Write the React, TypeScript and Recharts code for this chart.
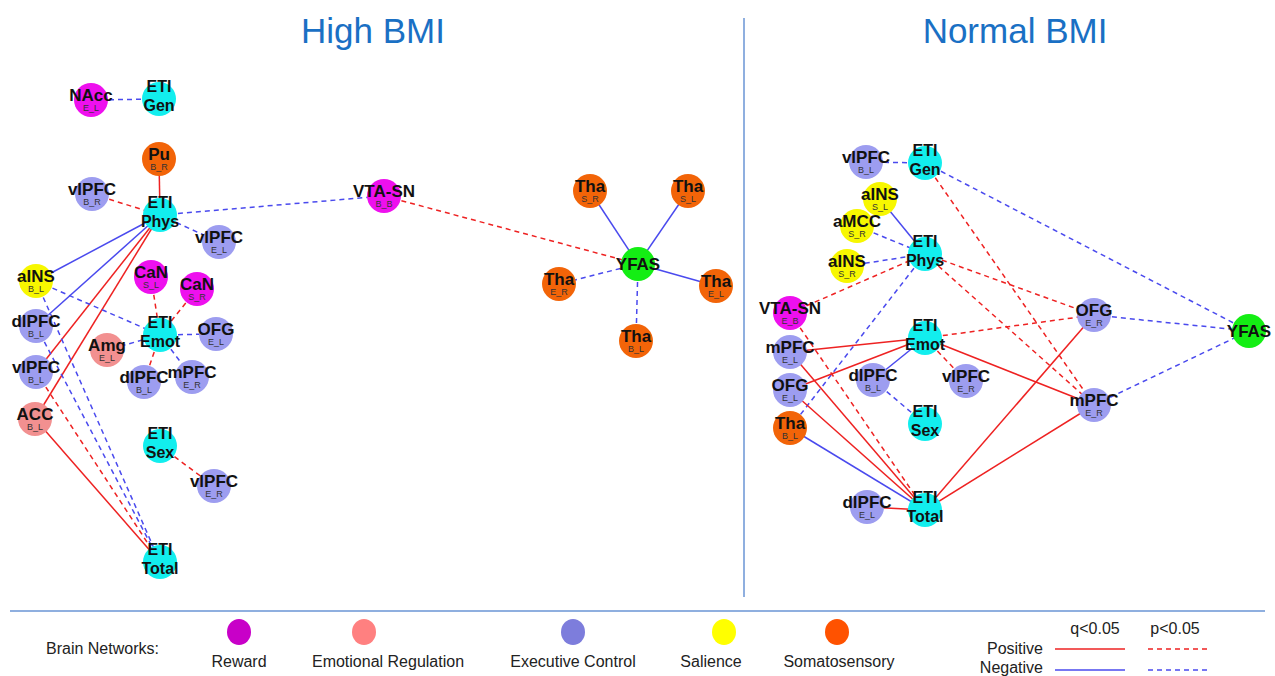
import { ScatterChart, Scatter, XAxis, YAxis } from "recharts";

type Group = "reward" | "emotion" | "executive" | "salience" | "somato" | "eti" | "yfas";
type Node = { id: string; label: string; sub?: string; group: Group; x: number; y: number };
type Edge = [string, string, "pos" | "neg", "q" | "p"];

// node layout (x, y), drawn through the axes' scales
const highNodes: Node[] = [
  { id: "h_nacc", label: "NAcc", sub: "E_L", group: "reward", x: 91, y: 100 },
  { id: "h_gen", label: "ETI\nGen", group: "eti", x: 159, y: 99 },
  { id: "h_pu", label: "Pu", sub: "B_R", group: "somato", x: 159, y: 159 },
  { id: "h_vlpfc_br", label: "vlPFC", sub: "B_R", group: "executive", x: 92, y: 194 },
  { id: "h_phys", label: "ETI\nPhys", group: "eti", x: 160, y: 215 },
  { id: "h_vlpfc_el", label: "vlPFC", sub: "E_L", group: "executive", x: 219, y: 242 },
  { id: "h_vta", label: "VTA-SN", sub: "B_B", group: "reward", x: 384, y: 196 },
  { id: "h_ains", label: "aINS", sub: "B_L", group: "salience", x: 36, y: 281 },
  { id: "h_can_sl", label: "CaN", sub: "S_L", group: "reward", x: 151, y: 277 },
  { id: "h_can_sr", label: "CaN", sub: "S_R", group: "reward", x: 197, y: 289 },
  { id: "h_dlpfc_bl", label: "dlPFC", sub: "B_L", group: "executive", x: 36, y: 326 },
  { id: "h_emot", label: "ETI\nEmot", group: "eti", x: 160, y: 335 },
  { id: "h_ofg", label: "OFG", sub: "E_L", group: "executive", x: 216, y: 334 },
  { id: "h_amg", label: "Amg", sub: "E_L", group: "emotion", x: 107, y: 350 },
  { id: "h_vlpfc_bl", label: "vlPFC", sub: "B_L", group: "executive", x: 36, y: 372 },
  { id: "h_dlpfc_bl2", label: "dlPFC", sub: "B_L", group: "executive", x: 144, y: 382 },
  { id: "h_mpfc", label: "mPFC", sub: "E_R", group: "executive", x: 192, y: 377 },
  { id: "h_acc", label: "ACC", sub: "B_L", group: "emotion", x: 35, y: 419 },
  { id: "h_sex", label: "ETI\nSex", group: "eti", x: 160, y: 446 },
  { id: "h_vlpfc_er", label: "vlPFC", sub: "E_R", group: "executive", x: 214, y: 486 },
  { id: "h_total", label: "ETI\nTotal", group: "eti", x: 160, y: 562 },
  { id: "h_tha_sr", label: "Tha", sub: "S_R", group: "somato", x: 590, y: 191 },
  { id: "h_tha_sl", label: "Tha", sub: "S_L", group: "somato", x: 688, y: 191 },
  { id: "h_yfas", label: "YFAS", group: "yfas", x: 638, y: 264 },
  { id: "h_tha_er", label: "Tha", sub: "E_R", group: "somato", x: 559, y: 284 },
  { id: "h_tha_el", label: "Tha", sub: "E_L", group: "somato", x: 716, y: 286 },
  { id: "h_tha_bl", label: "Tha", sub: "B_L", group: "somato", x: 636, y: 341 },
];

const normalNodes: Node[] = [
  { id: "n_vlpfc_bl", label: "vlPFC", sub: "B_L", group: "executive", x: 866, y: 162 },
  { id: "n_gen", label: "ETI\nGen", group: "eti", x: 925, y: 163 },
  { id: "n_ains_sl", label: "aINS", sub: "S_L", group: "salience", x: 880, y: 199 },
  { id: "n_amcc", label: "aMCC", sub: "S_R", group: "salience", x: 857, y: 226 },
  { id: "n_phys", label: "ETI\nPhys", group: "eti", x: 925, y: 254 },
  { id: "n_ains_sr", label: "aINS", sub: "S_R", group: "salience", x: 847, y: 266 },
  { id: "n_vta", label: "VTA-SN", sub: "E_B", group: "reward", x: 790, y: 313 },
  { id: "n_ofg_er", label: "OFG", sub: "E_R", group: "executive", x: 1094, y: 315 },
  { id: "n_yfas", label: "YFAS", group: "yfas", x: 1249, y: 331 },
  { id: "n_emot", label: "ETI\nEmot", group: "eti", x: 925, y: 338 },
  { id: "n_mpfc_el", label: "mPFC", sub: "E_L", group: "executive", x: 790, y: 352 },
  { id: "n_dlpfc_bl", label: "dlPFC", sub: "B_L", group: "executive", x: 873, y: 380 },
  { id: "n_vlpfc_er", label: "vlPFC", sub: "E_R", group: "executive", x: 966, y: 381 },
  { id: "n_ofg_el", label: "OFG", sub: "E_L", group: "executive", x: 790, y: 390 },
  { id: "n_mpfc_er", label: "mPFC", sub: "E_R", group: "executive", x: 1094, y: 405 },
  { id: "n_sex", label: "ETI\nSex", group: "eti", x: 925, y: 424 },
  { id: "n_tha_bl", label: "Tha", sub: "B_L", group: "somato", x: 790, y: 428 },
  { id: "n_dlpfc_el", label: "dlPFC", sub: "E_L", group: "executive", x: 867, y: 507 },
  { id: "n_total", label: "ETI\nTotal", group: "eti", x: 925, y: 510 },
];

const highEdges: Edge[] = [
  ["h_nacc", "h_gen", "neg", "p"],
  ["h_pu", "h_phys", "pos", "q"],
  ["h_vlpfc_br", "h_phys", "pos", "p"],
  ["h_phys", "h_vta", "neg", "p"],
  ["h_phys", "h_vlpfc_el", "neg", "p"],
  ["h_vta", "h_yfas", "pos", "p"],
  ["h_phys", "h_ains", "neg", "q"],
  ["h_phys", "h_dlpfc_bl", "neg", "q"],
  ["h_phys", "h_vlpfc_bl", "pos", "q"],
  ["h_phys", "h_acc", "pos", "q"],
  ["h_ains", "h_emot", "neg", "p"],
  ["h_ains", "h_total", "neg", "p"],
  ["h_dlpfc_bl", "h_total", "neg", "p"],
  ["h_vlpfc_bl", "h_total", "pos", "p"],
  ["h_acc", "h_total", "pos", "q"],
  ["h_can_sl", "h_emot", "pos", "p"],
  ["h_can_sr", "h_emot", "pos", "p"],
  ["h_emot", "h_ofg", "neg", "p"],
  ["h_emot", "h_amg", "neg", "p"],
  ["h_emot", "h_dlpfc_bl2", "pos", "p"],
  ["h_emot", "h_mpfc", "neg", "p"],
  ["h_sex", "h_vlpfc_er", "pos", "p"],
  ["h_yfas", "h_tha_sr", "neg", "q"],
  ["h_yfas", "h_tha_sl", "neg", "q"],
  ["h_yfas", "h_tha_er", "neg", "p"],
  ["h_yfas", "h_tha_el", "neg", "q"],
  ["h_yfas", "h_tha_bl", "neg", "p"],
];

const normalEdges: Edge[] = [
  ["n_vlpfc_bl", "n_gen", "neg", "p"],
  ["n_gen", "n_yfas", "neg", "p"],
  ["n_gen", "n_mpfc_er", "pos", "p"],
  ["n_ains_sl", "n_phys", "neg", "q"],
  ["n_amcc", "n_phys", "neg", "p"],
  ["n_ains_sr", "n_phys", "neg", "p"],
  ["n_vta", "n_phys", "pos", "p"],
  ["n_phys", "n_tha_bl", "neg", "p"],
  ["n_phys", "n_ofg_er", "pos", "p"],
  ["n_phys", "n_mpfc_er", "pos", "p"],
  ["n_emot", "n_ofg_er", "pos", "p"],
  ["n_ofg_er", "n_yfas", "neg", "p"],
  ["n_mpfc_er", "n_yfas", "neg", "p"],
  ["n_mpfc_el", "n_emot", "pos", "q"],
  ["n_ofg_el", "n_emot", "pos", "q"],
  ["n_emot", "n_dlpfc_bl", "neg", "q"],
  ["n_emot", "n_vlpfc_er", "pos", "p"],
  ["n_emot", "n_mpfc_er", "pos", "q"],
  ["n_dlpfc_bl", "n_sex", "neg", "p"],
  ["n_vta", "n_total", "pos", "p"],
  ["n_mpfc_el", "n_total", "pos", "q"],
  ["n_ofg_el", "n_total", "pos", "q"],
  ["n_tha_bl", "n_total", "neg", "q"],
  ["n_dlpfc_el", "n_total", "pos", "q"],
  ["n_total", "n_ofg_er", "pos", "q"],
  ["n_total", "n_mpfc_er", "pos", "q"],
];

const legendGroups: { group: Group; name: string }[] = [
  { group: "reward", name: "Reward" },
  { group: "emotion", name: "Emotional Regulation" },
  { group: "executive", name: "Executive Control" },
  { group: "salience", name: "Salience" },
  { group: "somato", name: "Somatosensory" },
];

const nodeFill: Record<Group, string> = {
  reward: "#ee10ee",
  emotion: "#f29090",
  executive: "#9d9df0",
  salience: "#f7f700",
  somato: "#f26408",
  eti: "#12eeee",
  yfas: "#14ee14",
};

const legendFill: Record<string, string> = {
  reward: "#c800c8",
  emotion: "#ff8080",
  executive: "#7d7ddc",
  salience: "#ffff00",
  somato: "#ff5200",
};

const POS = "#ee2222";
const NEG = "#4a4aee";
const FONT = "'Liberation Sans', Arial, sans-serif";

const W = 1275;
const H = 676;

const allNodes = [...highNodes, ...normalNodes];
const byId: Record<string, Node> = {};
allNodes.forEach((n) => (byId[n.id] = n));
const allEdges = [...highEdges, ...normalEdges];

const NodeShape = (props: any) => {
  const { cx, cy, payload } = props;
  const n = payload as Node;
  const lines = n.label.split("\n");
  const txt = {
    fontFamily: FONT,
    fontWeight: 700,
    fontSize: 17,
    fill: "#111",
    textAnchor: "middle" as const,
  };
  let label;
  if (lines.length === 2) {
    label = (
      <>
        <text x={cx} y={cy - 7} {...txt} fontSize={16}>{lines[0]}</text>
        <text x={cx} y={cy + 12} {...txt} fontSize={16}>{lines[1]}</text>
      </>
    );
  } else if (n.sub) {
    label = (
      <text {...txt}>
        <tspan x={cx} y={cy + 1}>{lines[0]}</tspan>
        <tspan x={cx} y={cy + 11} fontSize={9} fontWeight={400} fill="#333">
          {n.sub}
        </tspan>
      </text>
    );
  } else {
    label = (
      <text x={cx} y={cy + 6} {...txt}>
        {lines[0]}
      </text>
    );
  }
  return (
    <g>
      <circle cx={cx} cy={cy} r={17} fill={nodeFill[n.group]} />
      {label}
    </g>
  );
};

const Overlay = () => {
  const legendX = [239, 364, 573, 724, 837];
  const labelX = [239, 388, 573, 711, 839];
  const t = { fontFamily: FONT, fontSize: 16, fill: "#222" };
  return (
    <svg
      width={W}
      height={H}
      style={{ position: "absolute", left: 0, top: 0, pointerEvents: "none" }}
    >
      <text x={373} y={43} textAnchor="middle" fontFamily={FONT} fontSize={35} fill="#1a70c4">
        High BMI
      </text>
      <text x={1015} y={43} textAnchor="middle" fontFamily={FONT} fontSize={35} fill="#1a70c4">
        Normal BMI
      </text>
      <line x1={744} y1={18} x2={744} y2={597} stroke="#6a95d4" strokeWidth={1.5} />
      <line x1={10} y1={611} x2={1265} y2={611} stroke="#6a95d4" strokeWidth={1.5} />
      <text x={46} y={654} {...t}>Brain Networks:</text>
      {legendGroups.map((g, i) => (
        <g key={g.group}>
          <ellipse cx={legendX[i]} cy={632} rx={12} ry={13} fill={legendFill[g.group]} />
          <text x={labelX[i]} y={667} textAnchor="middle" {...t}>{g.name}</text>
        </g>
      ))}
      <text x={1095} y={634} textAnchor="middle" {...t}>q&lt;0.05</text>
      <text x={1175} y={634} textAnchor="middle" {...t}>p&lt;0.05</text>
      <text x={1043} y={654} textAnchor="end" {...t}>Positive</text>
      <text x={1043} y={673} textAnchor="end" {...t}>Negative</text>
      <line x1={1055} y1={649} x2={1125} y2={649} stroke={POS} strokeWidth={1.5} />
      <line x1={1148} y1={649} x2={1207} y2={649} stroke={POS} strokeWidth={1.5} strokeDasharray="5 4" />
      <line x1={1055} y1={670} x2={1125} y2={670} stroke={NEG} strokeWidth={1.5} />
      <line x1={1148} y1={670} x2={1207} y2={670} stroke={NEG} strokeWidth={1.5} strokeDasharray="5 4" />
    </svg>
  );
};

export default function App() {
  return (
    <div
      style={{
        position: "fixed",
        left: 0,
        top: 0,
        width: W,
        height: H,
        overflow: "hidden",
        background: "#fff",
      }}
    >
      <ScatterChart width={W} height={H} margin={{ top: 0, right: 0, bottom: 0, left: 0 }}>
        <XAxis type="number" dataKey="x" domain={[0, W]} hide />
        <YAxis type="number" dataKey="y" domain={[0, H]} reversed hide />
        {allEdges.map(([a, b, sign, sig], i) => (
          <Scatter
            key={`e${i}`}
            data={[byId[a], byId[b]]}
            fill={sign === "pos" ? POS : NEG}
            line={{
              stroke: sign === "pos" ? POS : NEG,
              strokeWidth: 1.5,
              strokeDasharray: sig === "p" ? "5 4" : undefined,
            }}
            shape={() => <g />}
            isAnimationActive={false}
          />
        ))}
        <Scatter data={allNodes} shape={NodeShape} isAnimationActive={false} />
      </ScatterChart>
      <Overlay />
    </div>
  );
}
